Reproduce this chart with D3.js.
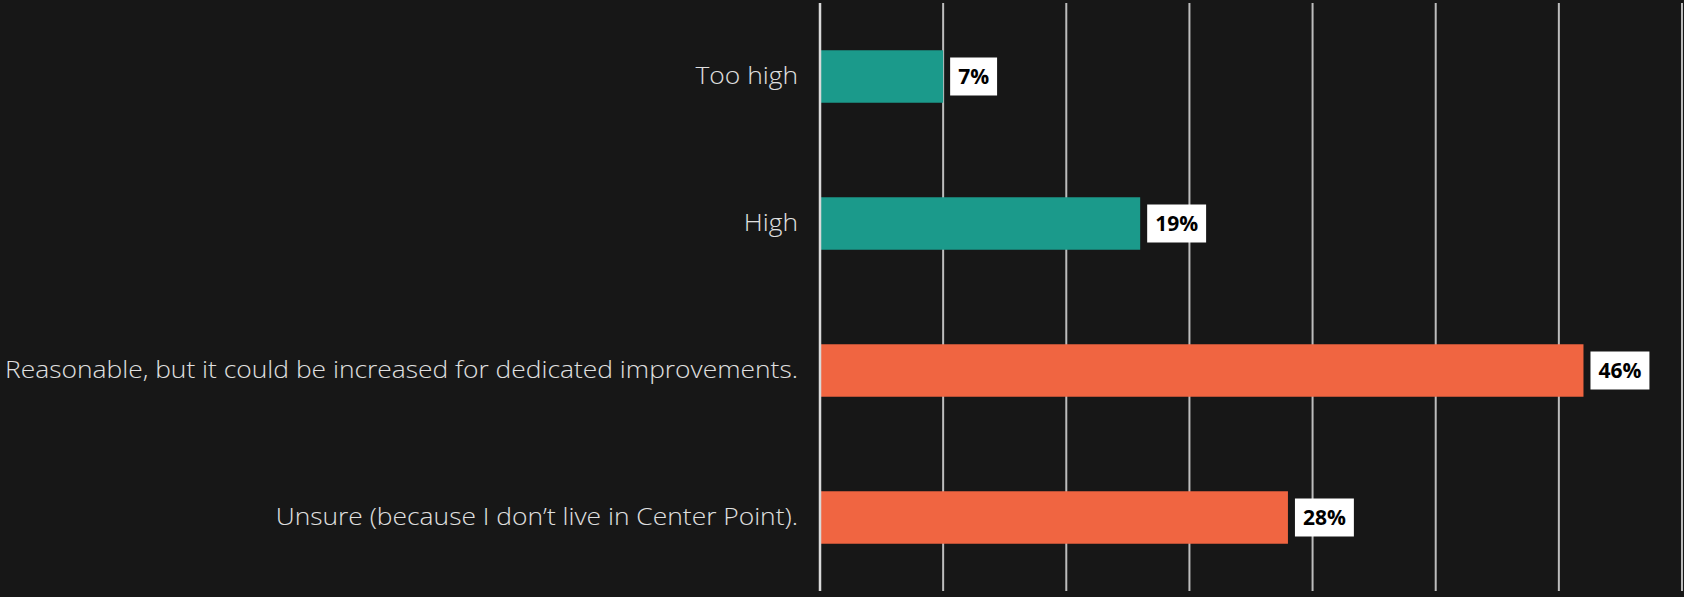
<!DOCTYPE html>
<html>
<head>
<meta charset="utf-8">
<script src="https://cdn.jsdelivr.net/npm/d3@7"></script>
<style>
  html, body { margin: 0; padding: 0; background: #171717; }
  svg { display: block; }
</style>
</head>
<body>
<svg id="chart" width="1684" height="597"></svg>
<script>
// Data
const categories = [
  "Too high",
  "High",
  "Reasonable, but it could be increased for dedicated improvements.",
  "Unsure (because I don\u2019t live in Center Point)."
];
const counts = [10, 26, 62, 38];
const colors = ["#1b9a8b", "#1b9a8b", "#f06541", "#f06541"];
const gridTicks = [0, 10, 20, 30, 40, 50, 60, 70];

const W = 1684, H = 597;
const margin = { left: 820, right: 2, top: 3, bottom: 6 };
const total = d3.sum(counts);

const svg = d3.select("#chart");
svg.append("rect").attr("width", W).attr("height", H).attr("fill", "#171717");

const x = d3.scaleLinear().domain([0, 70]).range([margin.left, W - margin.right]);
const y = d3.scaleBand().domain(categories).range([margin.top, H - margin.bottom]).padding(0);
const barH = y.bandwidth() * 0.357;

// gridlines
svg.append("g").selectAll("line").data(gridTicks.slice(1)).join("line")
  .attr("x1", d => x(d)).attr("x2", d => x(d))
  .attr("y1", margin.top).attr("y2", H - margin.bottom)
  .attr("stroke", "#bdbdbd").attr("stroke-width", 2);

// bars
const rows = categories.map((c, i) => ({ c, v: counts[i], col: colors[i] }));
svg.append("g").selectAll("rect").data(rows).join("rect")
  .attr("x", x(0))
  .attr("y", d => y(d.c) + (y.bandwidth() - barH) / 2)
  .attr("width", d => x(d.v) - x(0))
  .attr("height", barH)
  .attr("fill", d => d.col);

// axis line
svg.append("line")
  .attr("x1", x(0)).attr("x2", x(0))
  .attr("y1", margin.top).attr("y2", H - margin.bottom)
  .attr("stroke", "#d9d9d9").attr("stroke-width", 2.5);

// category labels
const catG = svg.append("g");
const cats = catG.selectAll("text").data(categories).join("text")
  .attr("x", x(0) - 22)
  .attr("y", d => y(d) + y.bandwidth() / 2)
  .attr("dy", "0.33em")
  .attr("text-anchor", "end")
  .attr("fill", "#e0e0e0")
  .attr("font-family", "'Open Sans', sans-serif")
  .attr("font-weight", 300)
  .attr("font-size", 24)
  .text(d => d);
// fit longest label to left space
let maxW = 0;
cats.each(function () { maxW = Math.max(maxW, this.getComputedTextLength()); });
const avail = x(0) - 22 - 5;
cats.each(function () {
  const w = this.getComputedTextLength();
  d3.select(this).attr("textLength", w * avail / maxW).attr("lengthAdjust", "spacingAndGlyphs");
});

// value labels
const lg = svg.append("g").selectAll("g").data(rows).join("g")
  .attr("transform", d => `translate(${x(d.v) + 7},${y(d.c) + y.bandwidth() / 2})`);
lg.append("text")
  .attr("x", 8)
  .attr("dy", "0.36em")
  .attr("fill", "#000")
  .attr("font-family", "'Open Sans', sans-serif")
  .attr("font-weight", 700)
  .attr("font-size", 21)
  .text(d => Math.round(d.v / total * 100) + "%");
lg.each(function () {
  const t = d3.select(this).select("text").node();
  const w = t.getComputedTextLength();
  d3.select(this).insert("rect", "text")
    .attr("x", 0).attr("y", -19)
    .attr("width", w + 16).attr("height", 38)
    .attr("fill", "#ffffff");
});
</script>
</body>
</html>
